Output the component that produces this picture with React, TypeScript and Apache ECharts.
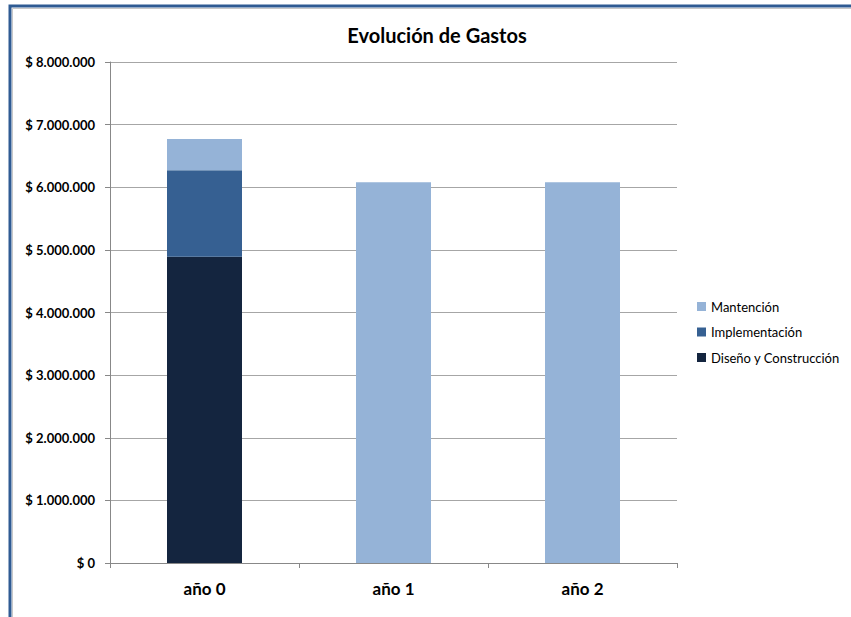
import React, { useEffect, useRef } from "react";
import * as echarts from "echarts";

const categories = ["año 0", "año 1", "año 2"];
const disenoConstruccion = [4890000, 0, 0];
const implementacion = [1380000, 0, 0];
const mantencion = [500000, 6080000, 6080000];
const seriesNames = ["Diseño y Construcción", "Implementación", "Mantención"];
const legendOrder = ["Mantención", "Implementación", "Diseño y Construcción"];

const FONT = "Lato, 'Open Sans', sans-serif";

function fmt(v: number): string {
  if (v === 0) return "$ 0";
  return "$ " + String(Math.round(v)).replace(/\B(?=(\d{3})+(?!\d))/g, ".");
}

export default function App() {
  const ref = useRef<HTMLDivElement>(null);
  useEffect(() => {
    const chart = echarts.init(ref.current!, null, { renderer: "svg" });
    const colors = ["#14253f", "#366092", "#95b3d7"];
    const datas = [disenoConstruccion, implementacion, mantencion];
    chart.setOption({
      animation: false,
      backgroundColor: "#ffffff",
      title: {
        text: "Evolución de Gastos",
        left: 432,
        textAlign: "center",
        top: 20,
        textStyle: { fontFamily: FONT, fontSize: 20, fontWeight: "bold", color: "#000" },
      },
      graphic: [
        {
          type: "rect",
          shape: { x: 10, y: 6, width: 900, height: 700 },
          style: { fill: "none", stroke: "#2f5b93", lineWidth: 3 },
          silent: true,
        },
        {
          type: "rect",
          shape: { x: 12.5, y: 8.5, width: 900, height: 700 },
          style: { fill: "none", stroke: "#c8c8c8", lineWidth: 1 },
          silent: true,
        },
      ],
      legend: {
        orient: "vertical",
        left: 692,
        top: 295,
        itemWidth: 9,
        itemHeight: 9,
        itemGap: 12.5,
        icon: "rect",
        data: legendOrder,
        textStyle: { fontFamily: FONT, fontSize: 13, color: "#000" },
      },
      grid: { left: 110, right: 174, top: 62, bottom: 54 },
      xAxis: {
        type: "category",
        data: categories,
        axisLine: { lineStyle: { color: "#888888" } },
        axisTick: { show: true, length: 5, lineStyle: { color: "#888888" } },
        axisLabel: {
          fontFamily: FONT,
          fontSize: 17,
          fontWeight: "bold",
          color: "#000",
          margin: 17,
        },
      },
      yAxis: {
        type: "value",
        min: 0,
        max: 8000000,
        interval: 1000000,
        axisLine: { show: true, lineStyle: { color: "#888888" } },
        axisTick: { show: true, length: 5, lineStyle: { color: "#888888" } },
        splitLine: { lineStyle: { color: "#a6a6a6" } },
        axisLabel: {
          fontFamily: FONT,
          fontSize: 13,
          fontWeight: "bold",
          color: "#000",
          margin: 15,
          formatter: (v: number) => fmt(v),
        },
      },
      series: seriesNames.map((name, i) => ({
        name,
        type: "bar",
        stack: "total",
        barWidth: 75,
        data: datas[i],
        itemStyle: { color: colors[i] },
      })),
    });
    return () => chart.dispose();
  }, []);
  return (
    <div
      ref={ref}
      style={{ position: "absolute", left: 0, top: 0, width: 851, height: 617 }}
    />
  );
}
